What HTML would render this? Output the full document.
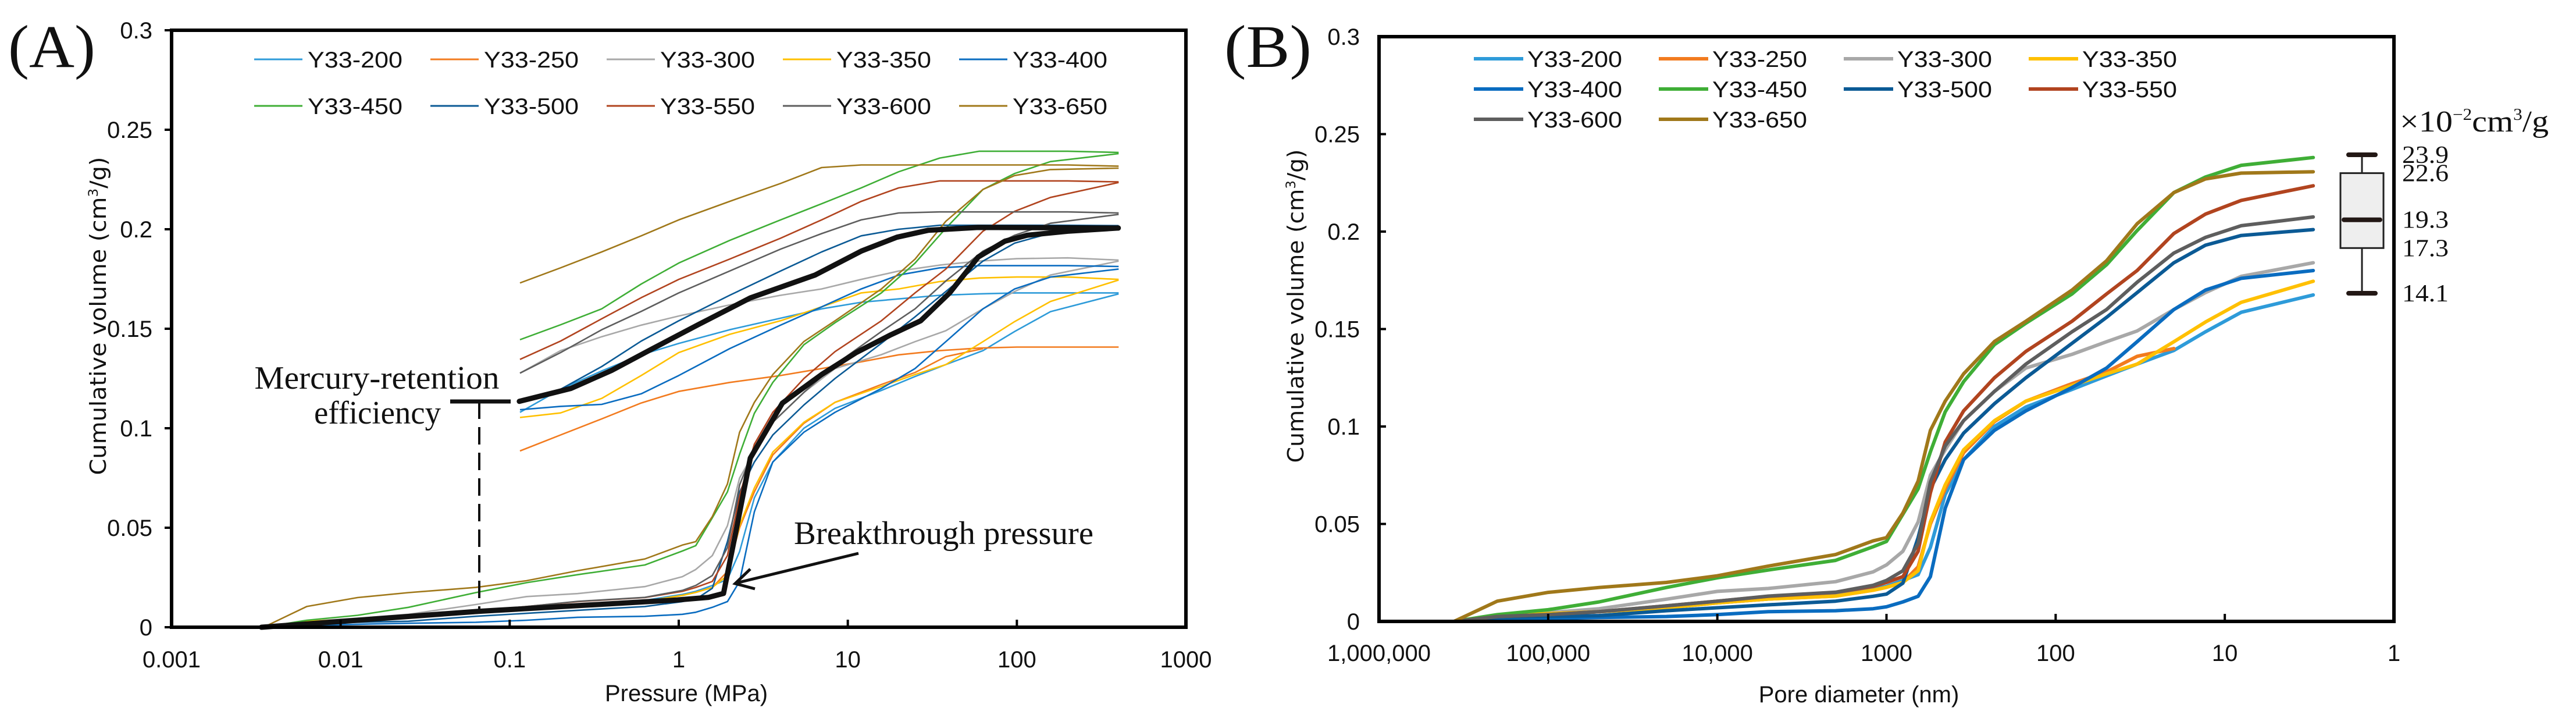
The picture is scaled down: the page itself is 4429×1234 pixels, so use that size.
<!DOCTYPE html>
<html><head><meta charset="utf-8">
<style>
html,body{margin:0;padding:0;background:#fff;}
svg{display:block;}
text{font-family:"Liberation Sans",sans-serif;}
.serif{font-family:"Liberation Serif",serif;}
.wide{font-family:"DejaVu Sans",sans-serif;}
</style></head>
<body>
<svg id="chart" xmlns="http://www.w3.org/2000/svg" width="4429" height="1234" viewBox="0 0 4429 1234">
<rect x="0" y="0" width="4429" height="1234" fill="#fff"/>
<g id="panelA"></g>
<g id="panelB"></g>
</svg>
<script>
// ---------- data ----------
const samples = ["Y33-200","Y33-250","Y33-300","Y33-350","Y33-400","Y33-450","Y33-500","Y33-550","Y33-600","Y33-650"];
const seriesColors = ["#2E9BD9","#F27B1F","#A8A8A8","#FFC000","#0A6CC0","#3FAE36","#0B5A95","#B1441F","#5E5E5E","#A0781A"];
const poreDiameters = [360000,200000,100000,50000,20000,10000,5000,2000,1200,1000,800,650,550,450,350,230,150,80,50,33,20,13,8,3];
const intrusionPressures = [0.0035,0.0063,0.0126,0.0252,0.063,0.126,0.252,0.63,1.05,1.26,1.58,1.94,2.29,2.8,3.6,5.5,8.4,15.8,25,38,63,97,158,400];
const vol200 = [0,.003,.004,.005,.007,.0095,.0115,.0135,.0165,.018,.021,.024,.038,.065,.083,.100,.110,.119,.126,.132,.139,.1486,.1586,.1675];
const vol250 = [0,.003,.004,.005,.007,.0095,.0115,.013,.016,.0175,.020,.028,.050,.068,.0866,.1025,.113,.122,.128,.136,.140,null,null,null];
const vol300 = [0,.003,.0045,.0065,.0114,.0154,.0169,.0204,.0254,.029,.036,.051,.075,.088,.103,.118,.130,.137,.1435,.149,.160,.1687,.177,.184];
const vol350 = [0,.003,.004,.005,.007,.0095,.0115,.013,.016,.0175,.020,.026,.051,.070,.088,.103,.113,.121,.127,.132,.1435,.1536,.1637,.1745];
const vol400 = [0,.001,.0015,.002,.0025,.0035,.005,.0055,.0065,.0075,.010,.0129,.023,.058,.083,.098,.108,.120,.130,.1435,.160,.170,.176,.180];
const vol450 = [0,.0035,.006,.010,.0174,.0224,.0264,.0313,.0383,.041,.055,.068,.087,.1075,.123,.142,.153,.168,.183,.2005,.220,.228,.234,.238];
const vol500 = [0,.002,.0025,.003,.0055,.007,.0085,.0104,.0129,.014,.0196,.043,.068,.083,.0966,.1117,.125,.1427,.156,.1687,.184,.193,.198,.201];
const vol550 = [0,.0025,.0035,.005,.008,.0104,.0129,.0149,.018,.020,.023,.036,.066,.092,.108,.125,.1385,.154,.168,.180,.199,.209,.216,.2235];
const vol600 = [0,.0025,.0035,.005,.008,.0104,.013,.015,.0185,.021,.026,.040,.0715,.090,.103,.118,.132,.1486,.160,.174,.189,.197,.203,.2075];
const vol650 = [0,.0104,.0149,.0174,.020,.0234,.0284,.0343,.0413,.043,.0556,.072,.098,.113,.127,.1436,.154,.170,.185,.204,.220,.227,.230,.2307];
const intrusionVolumes = [vol200,vol250,vol300,vol350,vol400,vol450,vol500,vol550,vol600,vol650];
const extrusionPressures = [0.115,0.2,0.35,0.6,1,2,4,7,12,20,35,60,100,200,400];
const ext200 = [.108,.1196,.1288,.1369,.1426,.1495,.1553,.160,.1633,.165,.1668,.1675,.168,.168,.168];
const ext250 = [.0886,.0966,.1047,.1127,.1185,.123,.1265,.130,.1334,.1369,.139,.1403,.1408,.1408,.1408];
const ext300 = [.1277,.139,.146,.1518,.1564,.162,.1668,.170,.1748,.179,.182,.184,.1852,.1856,.1845];
const ext350 = [.1054,.1077,.115,.1265,.138,.1472,.154,.161,.168,.170,.1737,.1755,.176,.176,.1748];
const ext400 = [.1093,.111,.112,.1173,.1265,.140,.1518,.161,.170,.177,.1806,.1817,.1817,.1817,.1813];
const ext450 = [.1445,.152,.160,.1725,.183,.1944,.2047,.2128,.2208,.2289,.2358,.2392,.2392,.2392,.2386];
const ext500 = [.1127,.1196,.131,.1438,.154,.1668,.179,.1886,.1967,.200,.202,.202,.202,.202,.2018];
const ext550 = [.1346,.1438,.155,.1656,.1748,.185,.1955,.2047,.214,.2208,.2243,.2243,.2243,.2243,.2238];
const ext600 = [.1277,.138,.1495,.1587,.168,.179,.190,.1978,.2047,.2082,.2087,.2087,.2087,.2087,.2082];
const ext650 = [.173,.1806,.1886,.1967,.2047,.214,.223,.231,.2323,.2323,.2323,.2323,.2323,.2323,.2317];
const extrusionVolumes = [ext200,ext250,ext300,ext350,ext400,ext450,ext500,ext550,ext600,ext650];
const avgIntP = [0.0034,0.066,0.98,1.5,1.84,2.2,2.65,4.1,7,11.2,18,27,40,59,85,115,200,398];
const avgIntV = [0,.008,.0137,.015,.017,.05,.085,.1126,.127,.138,.147,.154,.168,.186,.194,.197,.199,.2006];
const avgExtP = [0.114,0.23,0.40,0.70,1.3,2.65,6.4,12,19.5,30,59,398];
const avgExtV = [.1135,.12,.129,.140,.152,.1655,.177,.189,.196,.1995,.2009,.2006];
const yTicks = [0,0.05,0.1,0.15,0.2,0.25,0.3];
const yTickLabels = ["0","0.05","0.1","0.15","0.2","0.25","0.3"];
const xTicksA = [0.001,0.01,0.1,1,10,100,1000];
const xTickLabelsA = ["0.001","0.01","0.1","1","10","100","1000"];
const xTicksB = [1000000,100000,10000,1000,100,10,1];
const xTickLabelsB = ["1,000,000","100,000","10,000","1000","100","10","1"];
const boxStats = [14.1,17.3,19.3,22.6,23.9];
const boxLabels = ["14.1","17.3","19.3","22.6","23.9"];

// ---------- helpers ----------
const NS="http://www.w3.org/2000/svg";
function mk(tag, attrs, parent){const e=document.createElementNS(NS,tag);for(const k in attrs)e.setAttribute(k,attrs[k]);parent.appendChild(e);return e;}
function txt(parent, x, y, s, size, anchor, cls, tl){const t=mk('text',{x:x,y:y,'font-size':size,'text-anchor':anchor||'start',fill:'#111'},parent);if(cls)t.setAttribute('class',cls);if(tl){t.setAttribute('textLength',tl);t.setAttribute('lengthAdjust','spacingAndGlyphs');}t.textContent=s;return t;}
function pathFrom(xs, ys, fx, fy){let d='',pen=false;for(let i=0;i<xs.length;i++){if(ys[i]==null){pen=false;continue;}d+=(pen?'L':'M')+fx(xs[i]).toFixed(1)+','+fy(ys[i]).toFixed(1);pen=true;}return d;}

// ---------- panel A ----------
const A=document.getElementById('panelA');
const AL=295,AR=2039,AT=52,AB=1078;
const xA=p=>AL+(Math.log10(p)+3)*(AR-AL)/6;
const yA=v=>AB-v*(AB-AT)/0.3;
for(let i=0;i<samples.length;i++){
  const pi=mk('path',{d:pathFrom(intrusionPressures,intrusionVolumes[i],xA,yA),fill:'none',stroke:seriesColors[i],'stroke-width':2.6,'stroke-linejoin':'round'},A);
  
  
  const pe=mk('path',{d:pathFrom(extrusionPressures,extrusionVolumes[i],xA,yA),fill:'none',stroke:seriesColors[i],'stroke-width':2.6,'stroke-linejoin':'round'},A);
  
  
}
const ai=mk('path',{d:pathFrom(avgIntP,avgIntV,xA,yA),fill:'none',stroke:'#111','stroke-width':9,'stroke-linejoin':'round','stroke-linecap':'round'},A);


const ae=mk('path',{d:pathFrom(avgExtP,avgExtV,xA,yA),fill:'none',stroke:'#111','stroke-width':9,'stroke-linejoin':'round','stroke-linecap':'round'},A);


const fa=mk('rect',{x:AL,y:AT,width:AR-AL,height:AB-AT,fill:'none',stroke:'#000','stroke-width':6},A);


for(let i=0;i<yTicks.length;i++){
  const y=yA(yTicks[i]);
  mk('line',{x1:AL-12,y1:y,x2:AL,y2:y,stroke:'#000','stroke-width':4},A);
  const t=txt(A,262,y+14,yTickLabels[i],40,'end');
  
  
}
for(let i=0;i<xTicksA.length;i++){
  const x=xA(xTicksA[i]);
  mk('line',{x1:x,y1:AB-13,x2:x,y2:AB,stroke:'#000','stroke-width':4},A);
  const t=txt(A,x,1147,xTickLabelsA[i],40,'middle');
  
  
}
let t;
t=txt(A,1180,1205,'Pressure (MPa)',40,'middle');


t=mk('text',{x:0,y:0,'font-size':38,'text-anchor':'middle',fill:'#111',class:'wide',transform:'translate(182,543) rotate(-90)',textLength:547,lengthAdjust:'spacingAndGlyphs'},A);
t.innerHTML='Cumulative volume (cm<tspan font-size="22" dy="-14">3</tspan><tspan dy="14">/g)</tspan>';


t=txt(A,14,115,'(A)',104,'start','serif',150);


for(let i=0;i<samples.length;i++){
  const col=i%5,row=Math.floor(i/5);
  const x0=437+col*303,y0=102+row*80;
  const g=mk('g',{},A);
  
  
  mk('line',{x1:x0,y1:y0,x2:x0+83,y2:y0,stroke:seriesColors[i],'stroke-width':3},g);
  txt(g,x0+92,y0+14,samples[i],39,'start',null,163);
}
const ann=mk('g',{},A);


txt(ann,648,668,'Mercury-retention',56,'middle','serif',421);
txt(ann,649,728,'efficiency',56,'middle','serif',218);
mk('line',{x1:774,y1:690,x2:878,y2:690,stroke:'#111','stroke-width':7},ann);
mk('line',{x1:824,y1:690,x2:824,y2:1048,stroke:'#111','stroke-width':4,'stroke-dasharray':'30,14'},ann);
const bt=mk('g',{},A);


txt(bt,1365,935,'Breakthrough pressure',56,'start','serif',515);
mk('line',{x1:1476,y1:951,x2:1266,y2:1002,stroke:'#111','stroke-width':5},bt);
mk('polyline',{points:'1290,978 1264,1003 1298,1012',fill:'none',stroke:'#111','stroke-width':5},bt);

// ---------- panel B ----------
const B=document.getElementById('panelB');
const BL=2371,BR=4116,BT=63,BB=1068;
const xB=d=>BL+(6-Math.log10(d))*(BR-BL)/6;
const yB=v=>BB-v*(BB-BT)/0.3;
for(let i=0;i<samples.length;i++){
  const p=mk('path',{d:pathFrom(poreDiameters,intrusionVolumes[i],xB,yB),fill:'none',stroke:seriesColors[i],'stroke-width':6,'stroke-linejoin':'round','stroke-linecap':'round'},B);
  
  
}
const fb=mk('rect',{x:BL,y:BT,width:BR-BL,height:BB-BT,fill:'none',stroke:'#000','stroke-width':6},B);


for(let i=0;i<yTicks.length;i++){
  const y=yB(yTicks[i]);
  mk('line',{x1:BL,y1:y,x2:BL+12,y2:y,stroke:'#000','stroke-width':4},B);
  const t2=txt(B,2338,y+14,yTickLabels[i],40,'end');
  
  
}
for(let i=0;i<xTicksB.length;i++){
  const x=xB(xTicksB[i]);
  mk('line',{x1:x,y1:BB-13,x2:x,y2:BB,stroke:'#000','stroke-width':4},B);
  const t2=txt(B,x,1136,xTickLabelsB[i],40,'middle');
  
  
}
t=txt(B,3196,1207,'Pore diameter (nm)',40,'middle');


t=mk('text',{x:0,y:0,'font-size':38,'text-anchor':'middle',fill:'#111',class:'wide',transform:'translate(2241,526) rotate(-90)',textLength:539,lengthAdjust:'spacingAndGlyphs'},B);
t.innerHTML='Cumulative volume (cm<tspan font-size="22" dy="-14">3</tspan><tspan dy="14">/g)</tspan>';


t=txt(B,2105,115,'(B)',104,'start','serif',150);


for(let i=0;i<samples.length;i++){
  const col=i%4,row=Math.floor(i/4);
  const x0=2534+col*318,y0=101+row*52;
  const g=mk('g',{},B);
  
  
  mk('line',{x1:x0,y1:y0,x2:x0+85,y2:y0,stroke:seriesColors[i],'stroke-width':6},g);
  txt(g,x0+92,y0+14,samples[i],39,'start',null,163);
}
// box plot (own scale, x10^-2 cm3/g)
const bx=mk('g',{},B);


const yBox=v=>266+(23.9-v)*24.29;
const cx=4061;
mk('line',{x1:cx,y1:yBox(boxStats[4]),x2:cx,y2:yBox(boxStats[3]),stroke:'#222','stroke-width':3},bx);
mk('line',{x1:cx,y1:yBox(boxStats[1]),x2:cx,y2:yBox(boxStats[0]),stroke:'#222','stroke-width':3},bx);
mk('rect',{x:4024,y:yBox(boxStats[3]),width:74,height:yBox(boxStats[1])-yBox(boxStats[3]),fill:'#eeeeee',stroke:'#222','stroke-width':3},bx);
mk('line',{x1:4038,y1:yBox(boxStats[4]),x2:4084,y2:yBox(boxStats[4]),stroke:'#231815','stroke-width':8,'stroke-linecap':'round'},bx);
mk('line',{x1:4038,y1:yBox(boxStats[0]),x2:4084,y2:yBox(boxStats[0]),stroke:'#231815','stroke-width':8,'stroke-linecap':'round'},bx);
mk('line',{x1:4030,y1:yBox(boxStats[2]),x2:4092,y2:yBox(boxStats[2]),stroke:'#231815','stroke-width':8,'stroke-linecap':'round'},bx);
for(let i=0;i<boxStats.length;i++){
  const t3=txt(bx,4130,yBox(boxStats[i])+14,boxLabels[i],42,'start','serif',80);
  
  
}
t=mk('text',{x:4126,y:226,'font-size':52,fill:'#111',class:'serif',textLength:256,lengthAdjust:'spacingAndGlyphs'},bx);
t.innerHTML='×10<tspan font-size="28" dy="-20">−2</tspan><tspan dy="20">cm</tspan><tspan font-size="28" dy="-20">3</tspan><tspan dy="20">/g</tspan>';


</script>
</body></html>
